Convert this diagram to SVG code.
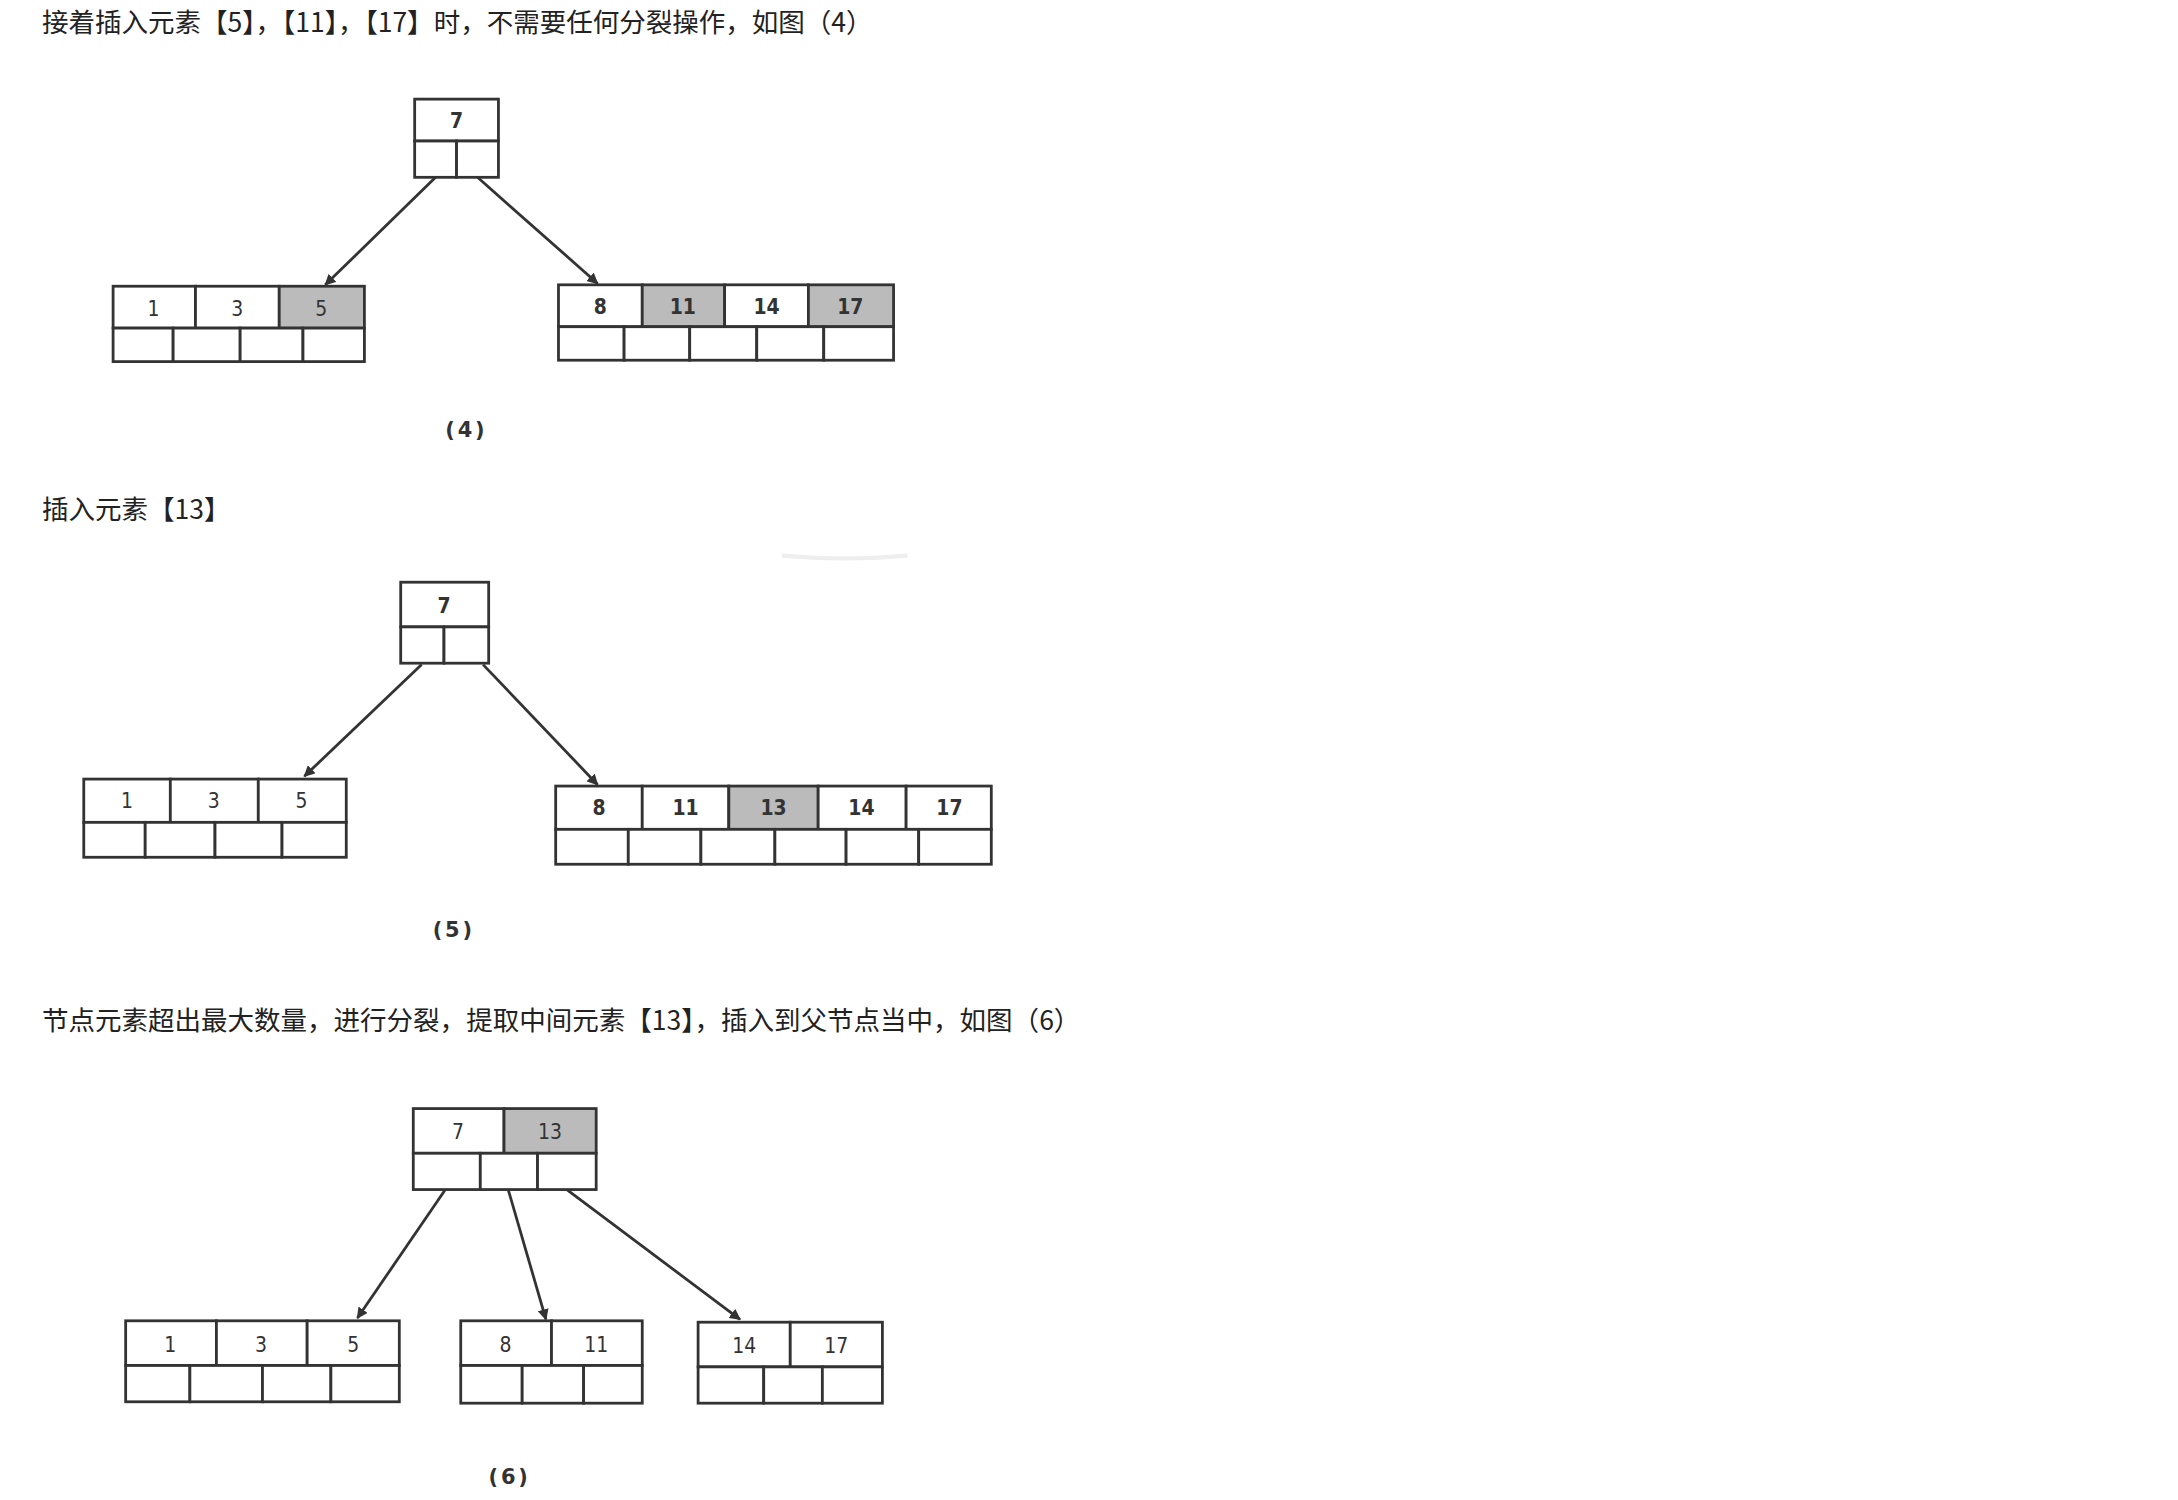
<svg xmlns="http://www.w3.org/2000/svg" width="2178" height="1500" viewBox="0 0 2178 1500">
<defs>
<style>
.c{fill:#fff;stroke:#333;stroke-width:2}
.g{fill:#bbb;stroke:#333;stroke-width:2}
.n{font-family:"DejaVu Sans Condensed","DejaVu Sans",sans-serif;font-size:15px;fill:#333;text-anchor:middle}
.b{font-weight:bold}
.t{font-family:"Noto Sans CJK SC","Noto Sans",sans-serif;font-size:19px;fill:#222}
.l{font-family:"DejaVu Sans",sans-serif;font-size:15px;font-weight:bold;fill:#333;text-anchor:middle;letter-spacing:2px}
.e{stroke:#333;stroke-width:2;fill:none;marker-end:url(#a)}
</style>
<marker id="a" viewBox="0 0 10 10" refX="9" refY="5" markerWidth="8" markerHeight="8" orient="auto" markerUnits="userSpaceOnUse"><path d="M0,0 L10,5 L0,10 z" fill="#333"/></marker>
</defs>
<rect width="2178" height="1500" fill="#fff"/>
<g transform="scale(1.3962)">
<text class="t" x="30" y="23">接着插入元素【5】，【11】，【17】时，不需要任何分裂操作，如图（4）</text>
<text class="t" x="30" y="372">插入元素【13】</text>
<text class="t" x="30" y="738">节点元素超出最大数量，进行分裂，提取中间元素【13】，插入到父节点当中，如图（6）</text>
<path d="M560,398 Q605,402 650,398" stroke="#eee" stroke-width="3" fill="none"/>

<g id="connectors">
<line class="e" x1="312" y1="127" x2="233" y2="204"/>
<line class="e" x1="342" y1="127" x2="428" y2="203"/>
<line class="e" x1="302" y1="476" x2="218" y2="556"/>
<line class="e" x1="346" y1="476" x2="428" y2="562"/>
<line class="e" x1="319" y1="852" x2="256" y2="944"/>
<line class="e" x1="364" y1="852" x2="391" y2="945"/>
<line class="e" x1="406" y1="852" x2="530" y2="945"/>
</g>

<!-- Figure 4 -->
<g id="f4-root">
<rect class="c" x="297" y="71" width="60" height="30"/>
<rect class="c" x="297" y="101" width="30" height="26"/><rect class="c" x="327" y="101" width="30" height="26"/>
<text class="n b" x="327" y="92">7</text>
</g>
<g id="f4-left">
<rect class="c" x="81" y="205" width="59" height="30"/><rect class="c" x="140" y="205" width="60" height="30"/><rect class="g" x="200" y="205" width="61" height="30"/>
<rect class="c" x="81" y="235" width="43" height="24"/><rect class="c" x="124" y="235" width="48" height="24"/><rect class="c" x="172" y="235" width="45" height="24"/><rect class="c" x="217" y="235" width="44" height="24"/>
<text class="n" x="110" y="226">1</text><text class="n" x="170" y="226">3</text><text class="n" x="230" y="226">5</text>
</g>
<g id="f4-right">
<rect class="c" x="400" y="204" width="60" height="30"/><rect class="g" x="460" y="204" width="59" height="30"/><rect class="c" x="519" y="204" width="60" height="30"/><rect class="g" x="579" y="204" width="61" height="30"/>
<rect class="c" x="400" y="234" width="47" height="24"/><rect class="c" x="447" y="234" width="47" height="24"/><rect class="c" x="494" y="234" width="48" height="24"/><rect class="c" x="542" y="234" width="48" height="24"/><rect class="c" x="590" y="234" width="50" height="24"/>
<text class="n b" x="430" y="225">8</text><text class="n b" x="489" y="225">11</text><text class="n b" x="549" y="225">14</text><text class="n b" x="609" y="225">17</text>
</g>
<text class="l" x="334" y="313">(4)</text>

<!-- Figure 5 -->
<g id="f5-root">
<rect class="c" x="287" y="417" width="63" height="32"/>
<rect class="c" x="287" y="449" width="31" height="26"/><rect class="c" x="318" y="449" width="32" height="26"/>
<text class="n b" x="318" y="439">7</text>
</g>
<g id="f5-left">
<rect class="c" x="60" y="558" width="62" height="31"/><rect class="c" x="122" y="558" width="63" height="31"/><rect class="c" x="185" y="558" width="63" height="31"/>
<rect class="c" x="60" y="589" width="44" height="25"/><rect class="c" x="104" y="589" width="50" height="25"/><rect class="c" x="154" y="589" width="48" height="25"/><rect class="c" x="202" y="589" width="46" height="25"/>
<text class="n" x="91" y="579">1</text><text class="n" x="153" y="579">3</text><text class="n" x="216" y="579">5</text>
</g>
<g id="f5-right">
<rect class="c" x="398" y="563" width="62" height="31"/><rect class="c" x="460" y="563" width="62" height="31"/><rect class="g" x="522" y="563" width="64" height="31"/><rect class="c" x="586" y="563" width="63" height="31"/><rect class="c" x="649" y="563" width="61" height="31"/>
<rect class="c" x="398" y="594" width="52" height="25"/><rect class="c" x="450" y="594" width="52" height="25"/><rect class="c" x="502" y="594" width="53" height="25"/><rect class="c" x="555" y="594" width="51" height="25"/><rect class="c" x="606" y="594" width="52" height="25"/><rect class="c" x="658" y="594" width="52" height="25"/>
<text class="n b" x="429" y="584">8</text><text class="n b" x="491" y="584">11</text><text class="n b" x="554" y="584">13</text><text class="n b" x="617" y="584">14</text><text class="n b" x="680" y="584">17</text>
</g>
<text class="l" x="325" y="671">(5)</text>

<!-- Figure 6 -->
<g id="f6-root">
<rect class="c" x="296" y="794" width="65" height="32"/><rect class="g" x="361" y="794" width="66" height="32"/>
<rect class="c" x="296" y="826" width="48" height="26"/><rect class="c" x="344" y="826" width="41" height="26"/><rect class="c" x="385" y="826" width="42" height="26"/>
<text class="n" x="328" y="816">7</text><text class="n" x="394" y="816">13</text>
</g>
<g id="f6-left">
<rect class="c" x="90" y="946" width="65" height="32"/><rect class="c" x="155" y="946" width="65" height="32"/><rect class="c" x="220" y="946" width="66" height="32"/>
<rect class="c" x="90" y="978" width="46" height="26"/><rect class="c" x="136" y="978" width="52" height="26"/><rect class="c" x="188" y="978" width="49" height="26"/><rect class="c" x="237" y="978" width="49" height="26"/>
<text class="n" x="122" y="968">1</text><text class="n" x="187" y="968">3</text><text class="n" x="253" y="968">5</text>
</g>
<g id="f6-mid">
<rect class="c" x="330" y="946" width="65" height="32"/><rect class="c" x="395" y="946" width="65" height="32"/>
<rect class="c" x="330" y="978" width="44" height="27"/><rect class="c" x="374" y="978" width="44" height="27"/><rect class="c" x="418" y="978" width="42" height="27"/>
<text class="n" x="362" y="968">8</text><text class="n" x="427" y="968">11</text>
</g>
<g id="f6-right">
<rect class="c" x="500" y="947" width="66" height="32"/><rect class="c" x="566" y="947" width="66" height="32"/>
<rect class="c" x="500" y="979" width="47" height="26"/><rect class="c" x="547" y="979" width="42" height="26"/><rect class="c" x="589" y="979" width="43" height="26"/>
<text class="n" x="533" y="969">14</text><text class="n" x="599" y="969">17</text>
</g>
<text class="l" x="365" y="1063">(6)</text>
</g>
</svg>
